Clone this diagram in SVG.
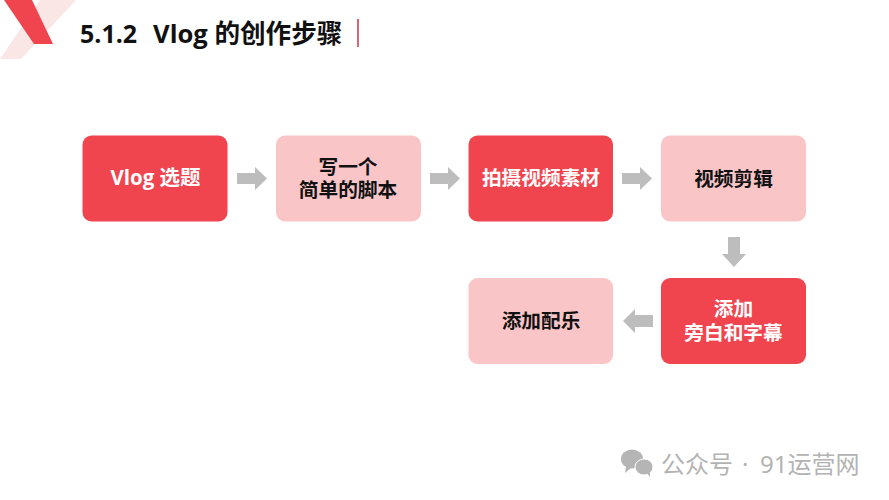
<svg xmlns="http://www.w3.org/2000/svg" width="889" height="500" viewBox="0 0 889 500">
<style>
text{font-family:"Open Sans","Noto Sans CJK SC",sans-serif;font-weight:700}
.box{stroke:none}
.red{fill:#f0454f}
.pink{fill:#f9c5c7}
.lbl{font-size:19.700px;text-anchor:middle}
.w{fill:#fff}
.k{fill:#111}
.arrow{fill:#bdbdbd}
.wm{font-size:24px;fill:#b3b3b3;font-family:"Noto Sans","Noto Sans CJK SC",sans-serif;font-weight:400}
</style>
<rect width="889" height="500" fill="#fff"/>
<g id="logo">
<polygon points="76,0 40,0 0,59 21,59" fill="#fbe6e6"/>
<polygon points="4,0 32,0 53,44 34,44" fill="#f0454f"/>
</g>
<g id="title">
<text x="80" y="43" font-size="25" fill="#111">5.1.2</text>
<text x="153" y="43" font-size="25.600" fill="#111">Vlog 的创作步骤</text>
<rect x="357" y="19" width="2" height="28" fill="#d9686e"/>
</g>
<g id="connectors">
<polygon class="arrow" points="237,173 255,173 255,167 267,178.500 255,190 255,184 237,184"/>
<polygon class="arrow" points="430,173 448,173 448,167 460,178.500 448,190 448,184 430,184"/>
<polygon class="arrow" points="622,173 640,173 640,167 652,178.500 640,190 640,184 622,184"/>
<polygon class="arrow" points="728,237 740,237 740,254 746,254 734,267 722,254 728,254"/>
<polygon class="arrow" points="653,315 635,315 635,309 623,321 635,333 635,327 653,327"/>
</g>
<g id="n1"><rect class="box red" x="82.500" y="135.500" width="145" height="86" rx="9"/><text class="lbl w" x="155.500" y="184.500" style="font-size:20.500px">Vlog 选题</text></g>
<g id="n2"><rect class="box pink" x="276" y="135.500" width="145" height="86" rx="9"/><text class="lbl k"><tspan x="348" y="173.500">写一个</tspan><tspan x="348" y="197">简单的脚本</tspan></text></g>
<g id="n3"><rect class="box red" x="468.500" y="135.500" width="144.500" height="86" rx="9"/><text class="lbl w" x="541" y="185">拍摄视频素材</text></g>
<g id="n4"><rect class="box pink" x="661" y="135.500" width="145" height="86" rx="9"/><text class="lbl k" x="733.500" y="185.500">视频剪辑</text></g>
<g id="n5"><rect class="box red" x="661" y="278" width="145" height="86" rx="9"/><text class="lbl w"><tspan x="733.500" y="315.500">添加</tspan><tspan x="733.500" y="339.500">旁白和字幕</tspan></text></g>
<g id="n6"><rect class="box pink" x="468.500" y="278" width="144.500" height="86" rx="9"/><text class="lbl k" x="541" y="327.500">添加配乐</text></g>
<g id="watermark">
<ellipse cx="632" cy="459" rx="11" ry="9.500" fill="#b5b5b5"/>
<polygon points="626,466 625,473 632,467" fill="#b5b5b5"/>
<ellipse cx="644" cy="467" rx="9" ry="8" fill="#b5b5b5" stroke="#fff" stroke-width="1"/>
<polygon points="647,473 650,477 650,472" fill="#b5b5b5"/>
<text class="wm"><tspan x="661" y="473">公众号</tspan><tspan x="742" y="473">·</tspan><tspan x="760" y="473">91运营网</tspan></text>
</g>
</svg>
